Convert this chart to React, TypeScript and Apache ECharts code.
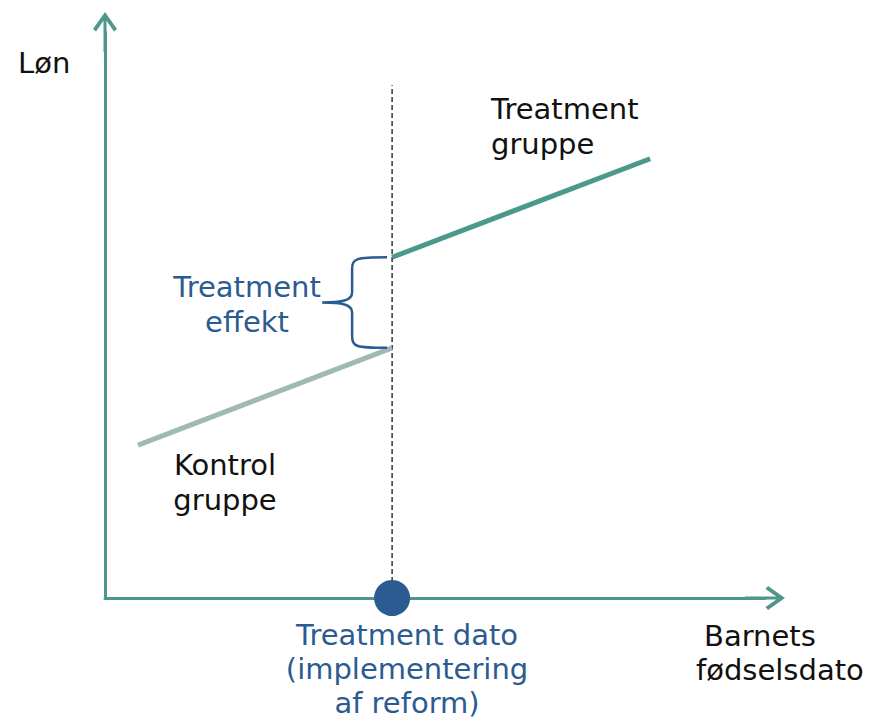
import React, { useEffect, useRef } from "react";
import * as echarts from "echarts";

// Data (abstract units: x = barnets fødselsdato, y = løn)
const treatmentDate = 43.5;
const controlX = [5, 43.5];
const controlY = [27, 44.2];
const treatmentX = [43.5, 82.6];
const treatmentY = [60.2, 77.6];
const cutoffLineTop = 90.6;

const axisColor = "#4f978d";
const treatColor = "#4b998d";
const controlColor = "#9fbab5";
const blue = "#2b5b90";
const font = "'DejaVu Sans', Verdana, sans-serif";

const arrowPath =
  "path://M12 0 L24 17 L21 19.5 L12 6.5 L3 19.5 L0 17 Z M10.5 4 L13.5 4 L13.5 40 L10.5 40 Z";

export default function App() {
  const ref = useRef<HTMLDivElement>(null);
  useEffect(() => {
    const chart = echarts.init(ref.current!, null, { renderer: "svg" });
    const axisCommon = {
      type: "value" as const,
      min: 0,
      max: 100,
      axisLabel: { show: false },
      axisTick: { show: false },
      splitLine: { show: false },
      axisLine: {
        show: true,
        onZero: false,
        symbol: ["none", arrowPath],
        symbolSize: [26, 40],
        lineStyle: { color: axisColor, width: 3 },
      },
    };
    const txt = (
      left: number,
      top: number,
      text: string,
      color: string,
      align: string = "left",
      lineHeight: number = 35
    ) => ({
      type: "text",
      x: left,
      y: top,
      style: {
        text,
        fill: color,
        font: `29px ${font}`,
        align,
        verticalAlign: "middle",
        lineHeight,
      },
    });
    chart.setOption({
      animation: false,
      backgroundColor: "#ffffff",
      grid: { left: 105, right: 126, top: 32, bottom: 122 },
      xAxis: { ...axisCommon },
      yAxis: { ...axisCommon },
      series: [
        {
          name: "Cutoff",
          type: "line",
          data: [
            [treatmentDate, 0],
            [treatmentDate, cutoffLineTop],
          ],
          symbol: "none",
          lineStyle: { color: "#000", width: 1.2, type: [5, 3] },
          z: 1,
        },
        {
          name: "Kontrol gruppe",
          type: "line",
          data: controlX.map((x, i) => [x, controlY[i]]),
          symbol: "none",
          lineStyle: { color: controlColor, width: 5, cap: "butt" },
          z: 2,
        },
        {
          name: "Treatment gruppe",
          type: "line",
          data: treatmentX.map((x, i) => [x, treatmentY[i]]),
          symbol: "none",
          lineStyle: { color: treatColor, width: 5, cap: "butt" },
          z: 2,
        },
        {
          name: "Treatment effekt",
          type: "custom",
          data: [[treatmentDate, controlY[1], treatmentY[0]]],
          renderItem: (params: any, api: any) => {
            const bottom = api.coord([api.value(0), api.value(1)]);
            const top = api.coord([api.value(0), api.value(2)]);
            const xe = top[0] - 5;
            const xs = xe - 35;
            const xt = xs - 30;
            const yt = top[1];
            const yb = bottom[1];
            const ym = (yt + yb) / 2;
            const d = `M${xe} ${yt} C${xs + 4} ${yt} ${xs} ${yt + 1} ${xs} ${yt + 12} L${xs} ${ym - 10} C${xs} ${ym - 2} ${xs - 10} ${ym} ${xt} ${ym} C${xs - 10} ${ym} ${xs} ${ym + 2} ${xs} ${ym + 10} L${xs} ${yb - 12} C${xs} ${yb - 1} ${xs + 4} ${yb} ${xe} ${yb}`;
            return {
              type: "path",
              shape: { pathData: d },
              style: { fill: "none", stroke: blue, lineWidth: 2.5 },
            };
          },
          z: 3,
        },
        {
          name: "Treatment dato",
          type: "scatter",
          data: [[treatmentDate, 0]],
          symbol: "circle",
          symbolSize: 36,
          itemStyle: { color: blue, opacity: 1 },
          z: 5,
        },
      ],
      graphic: [
        txt(18, 63, "Løn", "#111"),
        txt(491, 126, "Treatment\ngruppe", "#111"),
        txt(247, 304, "Treatment\neffekt", blue, "center"),
        txt(225, 482, "Kontrol\ngruppe", "#111", "center"),
        txt(407, 669, "Treatment dato\n(implementering\naf reform)", blue, "center", 34),
        txt(704, 636, "Barnets", "#111"),
        txt(696, 670, "fødselsdato", "#111"),
      ],
    });
    return () => chart.dispose();
  }, []);
  return (
    <div
      ref={ref}
      style={{ position: "fixed", left: 0, top: 0, width: 891, height: 720, background: "#fff" }}
    />
  );
}
